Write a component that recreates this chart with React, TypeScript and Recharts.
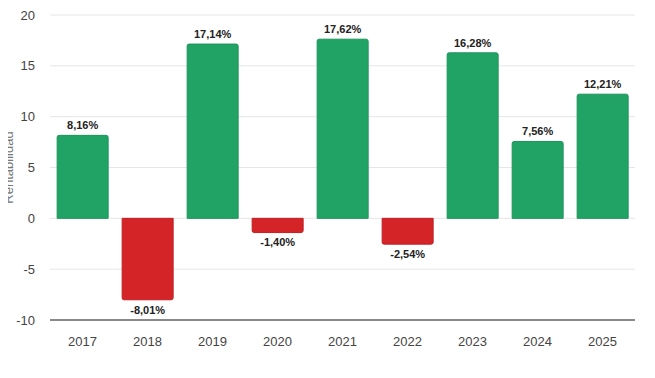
import { BarChart, Bar, Cell, XAxis, YAxis, CartesianGrid, LabelList } from 'recharts';

const years = ['2017', '2018', '2019', '2020', '2021', '2022', '2023', '2024', '2025'];
const returns = [8.16, -8.01, 17.14, -1.4, 17.62, -2.54, 16.28, 7.56, 12.21];
const yTicks = [-10, -5, 0, 5, 10, 15, 20];

const data = years.map((year, i) => ({ year, value: returns[i] }));

const fmt = (v: any) => `${Number(v).toFixed(2).replace('.', ',')}%`;

export default function App() {
  return (
    <div style={{ margin: -8, width: 655, height: 378, background: '#fff', fontFamily: '"Liberation Sans", Arial, sans-serif' }}>
      <BarChart
        width={655}
        height={378}
        data={data}
        margin={{ top: 15, right: 20, bottom: 28, left: 0 }}
        barCategoryGap="11%"
      >
        <CartesianGrid vertical={false} stroke="#e6e6e6" />
        <XAxis
          dataKey="year"
          axisLine={{ stroke: '#666', strokeWidth: 1.5 }}
          tickLine={false}
          tickMargin={11}
          tick={{ fontSize: 13, fill: '#444' }}
        />
        <YAxis
          width={50}
          domain={[-10, 20]}
          ticks={yTicks}
          axisLine={false}
          tickLine={false}
          tickMargin={9}
          tick={{ fontSize: 13, fill: '#444' }}
          label={{ value: 'Rentabilidad', angle: -90, position: 'center', dx: -17, fontSize: 13, fill: '#777' }}
        />
        <Bar dataKey="value" radius={[2, 2, 0, 0]} isAnimationActive={false}>
          {data.map((d, i) => (
            <Cell key={i} fill={d.value >= 0 ? '#21a366' : '#d42428'} stroke={d.value >= 0 ? '#1c9459' : '#c01f23'} />
          ))}
          <LabelList dataKey="value" position="top" offset={6} formatter={fmt} style={{ fontSize: 11, fontWeight: 700, fill: '#222' }} />
        </Bar>
      </BarChart>
    </div>
  );
}
